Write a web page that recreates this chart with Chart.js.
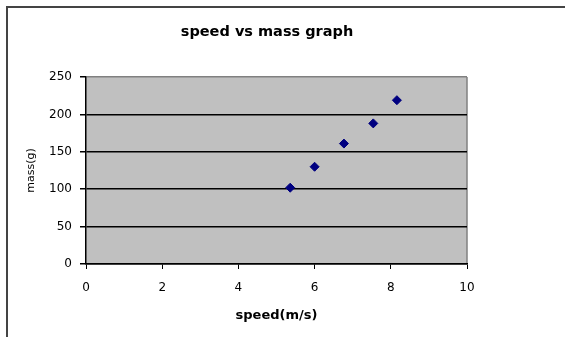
<!DOCTYPE html>
<html>
<head>
<meta charset="utf-8">
<script src="https://cdn.jsdelivr.net/npm/chart.js@4/dist/chart.umd.min.js"></script>
<style>
  html, body { margin: 0; padding: 0; background: #ffffff; }
  #wrap { width: 565px; height: 337px; }
</style>
</head>
<body>
<div id="wrap"><canvas id="chart" width="565" height="337"></canvas></div>
<script>
// Measured speed (m/s) and mass (g) pairs
const speedValues = [5.36, 6.0, 6.77, 7.54, 8.16];
const massValues  = [102, 130, 161, 188, 219];

// Axis tick labels
const speedTicks = [0, 2, 4, 6, 8, 10];
const massTicks  = [0, 50, 100, 150, 200, 250];

const chartTitle = 'speed vs mass graph';
const xTitle = 'speed(m/s)';
const yTitle = 'mass(g)';

const FONT = '"DejaVu Sans", Verdana, sans-serif';

const points = speedValues.map((s, i) => ({ x: s, y: massValues[i] }));

// Grey plot area, outer frame and title
const framePlugin = {
  id: 'frame',
  beforeDraw(chart) {
    const { ctx, chartArea: a, width, height } = chart;
    ctx.save();
    ctx.fillStyle = '#ffffff';
    ctx.fillRect(0, 0, width, height);
    ctx.fillStyle = '#c0c0c0';
    ctx.fillRect(a.left, a.top, a.right - a.left, a.bottom - a.top);
    // right edge of plot area
    ctx.strokeStyle = '#808080';
    ctx.lineWidth = 1.5;
    ctx.beginPath();
    ctx.moveTo(a.right, a.top);
    ctx.lineTo(a.right, a.bottom);
    ctx.stroke();
    // outer frame (top and left)
    ctx.strokeStyle = '#444444';
    ctx.lineWidth = 2;
    ctx.beginPath();
    ctx.moveTo(7, height);
    ctx.lineTo(7, 7);
    ctx.lineTo(width, 7);
    ctx.stroke();
    ctx.restore();
  },
  afterDraw(chart) {
    const { ctx } = chart;
    ctx.save();
    ctx.fillStyle = '#000000';
    ctx.font = 'bold 14.5px ' + FONT;
    ctx.textAlign = 'center';
    ctx.textBaseline = 'middle';
    ctx.fillText(chartTitle, 267, 32);
    ctx.restore();
  }
};

new Chart(document.getElementById('chart'), {
  type: 'scatter',
  data: {
    datasets: [{
      data: points,
      pointStyle: 'rectRot',
      pointRadius: 4.5,
      pointHoverRadius: 4.5,
      backgroundColor: '#000080',
      borderColor: '#000080',
      borderWidth: 1
    }]
  },
  options: {
    responsive: false,
    animation: false,
    events: [],
    layout: { padding: { top: 77, right: 98, left: 0, bottom: 0 } },
    plugins: {
      legend: { display: false },
      tooltip: { enabled: false }
    },
    scales: {
      x: {
        type: 'linear',
        min: 0,
        max: 10,
        afterBuildTicks(scale) { scale.ticks = speedTicks.map(v => ({ value: v })); },
        afterFit(scale) { scale.height = 73; },
        grid: {
          drawOnChartArea: false,
          drawTicks: true,
          tickLength: 5,
          tickColor: '#000000',
          tickWidth: 1
        },
        border: { display: true, color: '#000000', width: 1.5 },
        ticks: {
          color: '#000000',
          padding: 12,
          maxRotation: 0,
          font: { family: FONT, size: 12 }
        },
        title: {
          display: true,
          text: xTitle,
          color: '#000000',
          padding: { top: 4, bottom: 14 },
          font: { family: FONT, size: 13, weight: 'bold' }
        }
      },
      y: {
        type: 'linear',
        min: 0,
        max: 250,
        afterBuildTicks(scale) { scale.ticks = massTicks.map(v => ({ value: v })); },
        afterFit(scale) { scale.width = 86; },
        grid: {
          drawTicks: true,
          tickLength: 6,
          tickColor: '#000000',
          lineWidth: 1.5,
          color: ctx => (ctx.tick && ctx.tick.value === 250) ? '#808080' : '#000000'
        },
        border: { display: true, color: '#000000', width: 1.5 },
        ticks: {
          color: '#000000',
          padding: 8,
          font: { family: FONT, size: 12 }
        },
        title: {
          display: true,
          text: yTitle,
          color: '#000000',
          padding: { top: 25, bottom: 0 },
          font: { family: FONT, size: 11 }
        }
      }
    }
  },
  plugins: [framePlugin]
});
</script>
</body>
</html>
